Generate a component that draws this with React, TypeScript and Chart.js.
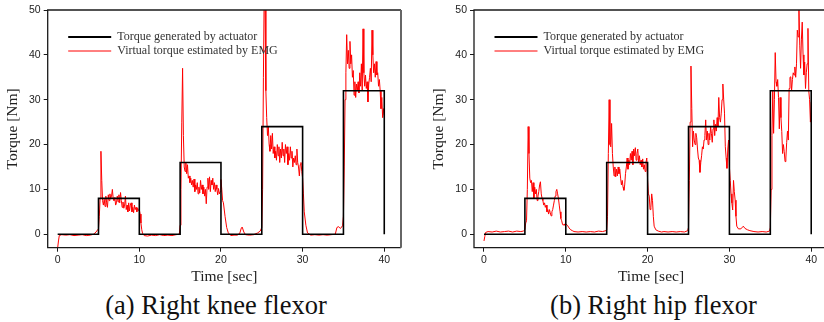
import React, { useEffect, useRef } from "react";
import { Chart, registerables } from "chart.js";

Chart.register(...registerables);

// ---------- data ----------
const xTicks = [0, 10, 20, 30, 40];
const yTicks = [0, 10, 20, 30, 40, 50];
const legendLabels = ["Torque generated by actuator", "Virtual torque estimated by EMG"];
const captions = ["(a) Right knee flexor", "(b) Right hip flexor"];
const xTitle = "Time [sec]";
const yTitle = "Torque [Nm]";

const stepTime = [0, 5, 5, 10, 10, 15, 15, 20, 20, 25, 25, 30, 30, 35, 35, 40, 40];
const stepTorque = [0, 0, 8, 8, 0, 0, 16, 16, 0, 0, 24, 24, 0, 0, 32, 32, 0];

const kneeEmg: [number, number][] = [
  [0, -3], [0.1, -1.5], [0.2, -0.3], [0.5, -0.1], [1, -0.2], [1.5, -0.1], [2, -0.3], [2.5, -0.2],
  [3, -0.1], [3.5, -0.3], [4, -0.2], [4.4, 0], [4.7, 0.5], [4.9, 1], [5, 1.2], [5.1, 4], [5.2, 8],
  [5.3, 18.5], [5.4, 12], [5.5, 7.5], [5.6, 6.5], [5.7, 7.8], [5.8, 6.2], [5.9, 8.5], [6, 7],
  [6.1, 6], [6.2, 8.8], [6.3, 7.5], [6.4, 9], [6.5, 8], [6.6, 8.5], [6.7, 10], [6.8, 8], [6.9, 7.5],
  [7, 8.2], [7.1, 6.5], [7.2, 7], [7.3, 8.5], [7.4, 7.2], [7.5, 8.8], [7.6, 7], [7.7, 9.3], [7.8, 7.5],
  [7.9, 6], [8, 7.2], [8.1, 5.8], [8.2, 6.5], [8.3, 8.5], [8.4, 5.5], [8.5, 6.5], [8.6, 5], [8.7, 7],
  [8.8, 5.2], [8.9, 6.5], [9, 7], [9.1, 5], [9.2, 6], [9.3, 4.8], [9.4, 6.5], [9.5, 5.5], [9.6, 6],
  [9.7, 5], [9.8, 5.8], [9.9, 5.3], [10, 5.5], [10.1, 4.5], [10.2, 2.5], [10.3, 1], [10.4, 0.2],
  [10.6, -0.3], [11, -0.4], [11.5, -0.2], [12, -0.3], [12.5, -0.1], [13, -0.3], [13.5, -0.2],
  [14, -0.3], [14.5, -0.1], [14.9, 0], [15, 2], [15.1, 10], [15.2, 25], [15.3, 37], [15.4, 22],
  [15.5, 15], [15.6, 14], [15.7, 16], [15.8, 13.5], [15.9, 15.5], [16, 12.5], [16.1, 13], [16.2, 11.5],
  [16.3, 12.5], [16.4, 11], [16.5, 12], [16.6, 10.5], [16.7, 12.3], [16.8, 9.5], [16.9, 11], [17, 10],
  [17.1, 11.5], [17.2, 9], [17.3, 10.5], [17.4, 9.2], [17.5, 12], [17.6, 10], [17.7, 11], [17.8, 9],
  [17.9, 10.5], [18, 8.5], [18.1, 10], [18.2, 6.8], [18.3, 10.5], [18.4, 12.5], [18.5, 10], [18.6, 12.8],
  [18.7, 9.5], [18.8, 12], [18.9, 11], [19, 12.5], [19.1, 10], [19.2, 11.5], [19.3, 9.5], [19.4, 11],
  [19.5, 10], [19.6, 8.8], [19.7, 10.2], [19.8, 9], [19.9, 9.5], [20, 12.2], [20.1, 10], [20.2, 7.5],
  [20.3, 7], [20.5, 4], [20.7, 1.5], [20.9, 0.3], [21.2, -0.3], [21.6, -0.2], [22, -0.2], [22.3, 0.2],
  [22.5, 1.4], [22.6, 1.6], [22.8, 0.5], [23, -0.1], [23.5, -0.2], [24, -0.1], [24.5, 0.3], [24.8, 0.7],
  [25, 1.5], [25.1, 10], [25.2, 35], [25.3, 55], [25.4, 50], [25.5, 32], [25.6, 26], [25.7, 22],
  [25.8, 24], [25.9, 20], [26, 18.5], [26.1, 22], [26.2, 19], [26.3, 22.5], [26.4, 18], [26.5, 19.5],
  [26.6, 17], [26.7, 18.5], [26.8, 16.5], [26.9, 20], [27, 17.5], [27.1, 19.5], [27.2, 16], [27.3, 19],
  [27.4, 17], [27.5, 20.5], [27.6, 17.5], [27.7, 19], [27.8, 16], [27.9, 20], [28, 18], [28.1, 19.5],
  [28.2, 15.5], [28.3, 18], [28.4, 16.5], [28.5, 19.5], [28.6, 17], [28.7, 18.5], [28.8, 15], [28.9, 17],
  [29, 16], [29.1, 17.5], [29.2, 15.5], [29.3, 19], [29.4, 16], [29.5, 15], [29.6, 13], [29.7, 15.5],
  [29.8, 16], [29.9, 14], [30, 12.5], [30.1, 9], [30.2, 5], [30.4, 2], [30.6, 0.3], [31, -0.2],
  [31.5, -0.1], [32, -0.2], [32.5, -0.1], [33, -0.2], [33.5, -0.1], [34, 0], [34.2, 1.5], [34.4, 1.7],
  [34.6, 1.3], [34.8, 1.6], [34.9, 2], [35, 4], [35.1, 15], [35.2, 30], [35.3, 36], [35.4, 44.5],
  [35.5, 38], [35.6, 41], [35.7, 37], [35.8, 43], [35.9, 38], [36, 40], [36.1, 35], [36.2, 36.5],
  [36.3, 31], [36.4, 34], [36.5, 30.5], [36.6, 33.5], [36.7, 32], [36.8, 34], [36.9, 31.5], [37, 36],
  [37.1, 33], [37.2, 38], [37.3, 32], [37.4, 45.8], [37.5, 36], [37.6, 33], [37.7, 35.5], [37.8, 32.5],
  [37.9, 34], [38, 29.5], [38.1, 33.5], [38.2, 35], [38.3, 37], [38.4, 34], [38.5, 45.5], [38.6, 40],
  [38.7, 36], [38.8, 38], [38.9, 35], [39, 38.5], [39.1, 35.5], [39.2, 36], [39.3, 33], [39.4, 34.5],
  [39.5, 32], [39.6, 28], [39.7, 30.5], [39.8, 26], [39.9, 28], [40, 26.5],
];

const hipEmg: [number, number][] = [
  [0, -1.5], [0.1, -0.5], [0.2, 0.4], [0.5, 0.6], [1, 0.5], [1.5, 0.7], [2, 0.5], [2.5, 0.6], [3, 0.7],
  [3.5, 0.5], [4, 0.7], [4.5, 0.6], [4.8, 0.7], [5, 1], [5.1, 2.5], [5.2, 3], [5.3, 10], [5.4, 24],
  [5.5, 18], [5.6, 12.5], [5.7, 11.5], [5.8, 12], [5.9, 9.5], [6, 11.5], [6.1, 8], [6.2, 10.5], [6.3, 9],
  [6.4, 10], [6.5, 7.5], [6.6, 8.5], [6.7, 9.5], [6.8, 11], [6.9, 11.7], [7, 9], [7.1, 8], [7.2, 7.5],
  [7.3, 6.5], [7.4, 7], [7.5, 6], [7.6, 6.5], [7.7, 5], [7.8, 5.5], [7.9, 4.5], [8, 5.5], [8.1, 4.8],
  [8.2, 4.1], [8.3, 5], [8.4, 5.5], [8.5, 6.5], [8.6, 7.5], [8.7, 8.5], [8.8, 9.5], [8.9, 10], [9, 9],
  [9.1, 8], [9.2, 6.5], [9.3, 5], [9.4, 3.5], [9.5, 3], [9.6, 2.2], [9.7, 2], [9.8, 2.3], [9.9, 2],
  [10, 2.3], [10.2, 2], [10.4, 1.4], [10.6, 1], [10.8, 0.8], [11, 0.6], [11.5, 0.5], [12, 0.6],
  [12.5, 0.5], [13, 0.6], [13.5, 0.5], [14, 0.7], [14.5, 0.6], [14.9, 0.8], [15, 1], [15.1, 4],
  [15.2, 18], [15.3, 30], [15.4, 20], [15.5, 19.5], [15.6, 24.7], [15.7, 18], [15.8, 15], [15.9, 13],
  [16, 15], [16.1, 12.8], [16.2, 14.5], [16.3, 13], [16.4, 15], [16.5, 13.5], [16.6, 14.5], [16.7, 12.5],
  [16.8, 11], [16.9, 12], [17, 10.5], [17.1, 9.8], [17.2, 11], [17.3, 13.5], [17.4, 15], [17.5, 17],
  [17.6, 14.5], [17.7, 16.5], [17.8, 15.5], [17.9, 18], [18, 16.5], [18.1, 18.5], [18.2, 15.5], [18.3, 19],
  [18.4, 17.5], [18.5, 19.3], [18.6, 16.5], [18.7, 18], [18.8, 19], [18.9, 16], [19, 17.5], [19.1, 15.5],
  [19.2, 16.5], [19.3, 15], [19.4, 16.8], [19.5, 14.5], [19.6, 15.5], [19.7, 14], [19.8, 16], [19.9, 17],
  [20, 12], [20.1, 9], [20.2, 8.5], [20.3, 5.5], [20.4, 6], [20.5, 9], [20.6, 7.5], [20.7, 4], [20.8, 1.8],
  [21, 1], [21.3, 0.7], [21.7, 0.5], [22, 0.6], [22.5, 0.5], [23, 0.6], [23.5, 0.5], [24, 0.6],
  [24.5, 0.5], [24.9, 0.8], [25, 1.5], [25.1, 12], [25.2, 25], [25.3, 37.5], [25.4, 28], [25.5, 19.5],
  [25.6, 23], [25.7, 21], [25.8, 20], [25.9, 22.5], [26, 21.5], [26.1, 19], [26.2, 17], [26.3, 16.5],
  [26.4, 13.8], [26.5, 16], [26.6, 17.5], [26.7, 19.5], [26.8, 19], [26.9, 21], [27, 22], [27.1, 25.5],
  [27.2, 21], [27.3, 23], [27.4, 20], [27.5, 22.5], [27.6, 21], [27.7, 24], [27.8, 22.5], [27.9, 20.5],
  [28, 23.5], [28.1, 25.5], [28.2, 22], [28.3, 24.5], [28.4, 23], [28.5, 26], [28.6, 24], [28.7, 30.5],
  [28.8, 26], [28.9, 25], [29, 27], [29.1, 30], [29.2, 33.5], [29.3, 30], [29.4, 27], [29.5, 19.5],
  [29.6, 17], [29.7, 14.7], [29.8, 19], [29.9, 21], [30, 15], [30.1, 12], [30.2, 9], [30.3, 7],
  [30.4, 5.4], [30.5, 12], [30.6, 9.5], [30.7, 7.6], [30.8, 4], [30.9, 1.8], [31.1, 1.2], [31.4, 1.2],
  [31.7, 1.8], [31.9, 1.3], [32.2, 1], [32.5, 0.8], [33, 0.6], [33.5, 0.5], [34, 0.6], [34.5, 0.5],
  [34.9, 0.7], [35, 1.5], [35.1, 10], [35.2, 22], [35.3, 32], [35.4, 22.5], [35.5, 30], [35.6, 40.5],
  [35.7, 34], [35.8, 33], [35.9, 34.5], [36, 30.5], [36.1, 23.5], [36.2, 30.5], [36.3, 26], [36.4, 22.9],
  [36.5, 18], [36.6, 20], [36.7, 18.4], [36.8, 16.2], [36.9, 17], [37, 20.5], [37.1, 23], [37.2, 21],
  [37.3, 32.5], [37.4, 35], [37.5, 35.1], [37.6, 32], [37.7, 34.5], [37.8, 36], [37.9, 35.5], [38, 37.3],
  [38.1, 35], [38.2, 38], [38.3, 45.5], [38.4, 44], [38.5, 50], [38.6, 42], [38.7, 37], [38.8, 43.5],
  [38.9, 47.3], [39, 40], [39.1, 35.5], [39.2, 38.4], [39.3, 32.5], [39.4, 36], [39.5, 38], [39.6, 45.9],
  [39.7, 32], [39.8, 30], [39.9, 25], [40, 29.5],
];

// ---------- plugins ----------
const framePlugin = {
  id: "frame",
  afterDatasetsDraw(chart: any) {
    const { ctx, chartArea: a } = chart;
    ctx.save();
    ctx.strokeStyle = "#1a1a1a";
    ctx.lineWidth = 1.3;
    ctx.beginPath();
    ctx.moveTo(a.right, a.top);
    ctx.lineTo(a.left, a.top);
    ctx.lineTo(a.left, a.bottom);
    ctx.lineTo(a.right, a.bottom);
    ctx.stroke();
    ctx.strokeStyle = "#666";
    ctx.lineWidth = 2;
    ctx.beginPath();
    ctx.moveTo(a.right, a.top);
    ctx.lineTo(a.right, a.bottom);
    ctx.stroke();
    ctx.restore();
  },
};

const legendPlugin = {
  id: "insideLegend",
  afterDraw(chart: any) {
    const { ctx, chartArea: a } = chart;
    chart.data.datasets.forEach((ds: any, i: number) => {
      const y = a.top + 27 + i * 14;
      ctx.save();
      ctx.strokeStyle = ds.borderColor;
      ctx.lineWidth = i === 0 ? 2 : 1;
      ctx.beginPath();
      ctx.moveTo(a.left + 20.5, y);
      ctx.lineTo(a.left + 63.5, y);
      ctx.stroke();
      ctx.fillStyle = "#333";
      ctx.font = '12px "Liberation Serif"';
      ctx.textBaseline = "middle";
      ctx.textAlign = "left";
      ctx.fillText(ds.label, a.left + 69.5, y);
      ctx.restore();
    });
  },
};

// ---------- panel ----------
type PanelProps = {
  emg: [number, number][];
  left: number;
  width: number;
  areaLeft: number;
  padRight: number;
  yTitlePad: number;
};

const CH = 290;

function Panel({ emg, left, width, areaLeft, padRight, yTitlePad }: PanelProps) {
  const ref = useRef<HTMLCanvasElement | null>(null);
  useEffect(() => {
    if (!ref.current) return;
    const chart = new Chart(ref.current, {
      type: "line",
      data: {
        datasets: [
          {
            label: legendLabels[0],
            data: stepTime.map((t, i) => ({ x: t, y: stepTorque[i] })),
            borderColor: "#000",
            borderWidth: 1.6,
            pointRadius: 0,
            tension: 0,
          },
          {
            label: legendLabels[1],
            data: emg.map(([t, v]) => ({ x: t, y: v })),
            borderColor: "#ff0000",
            borderWidth: 1,
            pointRadius: 0,
            tension: 0,
          },
        ],
      },
      options: {
        animation: false,
        responsive: false,
        maintainAspectRatio: false,
        devicePixelRatio: 1,
        layout: { padding: { left: 0, right: padRight, top: 10, bottom: 0 } },
        plugins: { legend: { display: false }, tooltip: { enabled: false } },
        scales: {
          x: {
            type: "linear",
            min: -1.22,
            max: 42.05,
            afterBuildTicks: (s: any) => {
              s.ticks = xTicks.map((v) => ({ value: v }));
            },
            afterFit: (s: any) => {
              s.height = CH - 247.7;
            },
            grid: { drawOnChartArea: false, drawTicks: true, tickLength: 4, tickColor: "#1a1a1a", lineWidth: 1 },
            border: { display: false },
            ticks: {
              font: { family: "Liberation Sans", size: 10.5 },
              color: "#222",
              padding: 2,
              maxRotation: 0,
              autoSkip: false,
            },
            title: {
              display: true,
              text: xTitle,
              color: "#222",
              font: { family: "Liberation Serif", size: 15.5 },
              padding: { top: 0, bottom: 3.7 },
            },
          },
          y: {
            type: "linear",
            min: -3,
            max: 50,
            afterBuildTicks: (s: any) => {
              s.ticks = yTicks.map((v) => ({ value: v }));
            },
            afterFit: (s: any) => {
              s.width = areaLeft;
            },
            grid: { drawOnChartArea: false, drawTicks: true, tickLength: 4, tickColor: "#1a1a1a", lineWidth: 1 },
            border: { display: false },
            ticks: {
              font: { family: "Liberation Sans", size: 10.5 },
              color: "#222",
              padding: 3,
              autoSkip: false,
            },
            title: {
              display: true,
              text: yTitle,
              color: "#222",
              font: { family: "Liberation Serif", size: 15.5 },
              padding: { top: yTitlePad, bottom: 0 },
            },
          },
        },
      },
      plugins: [framePlugin, legendPlugin],
    } as any);
    return () => chart.destroy();
  }, [emg, areaLeft, padRight, yTitlePad]);

  return (
    <canvas
      ref={ref}
      width={width}
      height={CH}
      style={{ position: "absolute", left, top: 0, width, height: CH }}
    />
  );
}

function Caption({ text, cx }: { text: string; cx: number }) {
  return (
    <div
      style={{
        position: "absolute",
        left: cx,
        top: 289.5,
        transform: "translateX(-50%)",
        fontFamily: '"Liberation Serif", serif',
        fontSize: 26.5,
        lineHeight: "30px",
        whiteSpace: "nowrap",
        color: "#111",
      }}
    >
      {text}
    </div>
  );
}

export default function App() {
  return (
    <div
      style={{
        position: "absolute",
        left: 0,
        top: 0,
        width: 824,
        height: 322,
        overflow: "hidden",
        background: "#fff",
      }}
    >
      <Panel emg={kneeEmg} left={0} width={412} areaLeft={47.7} padRight={11} yTitlePad={3.7} />
      <Panel emg={hipEmg} left={412} width={420} areaLeft={62} padRight={4} yTitlePad={17.7} />
      <Caption text={captions[0]} cx={216} />
      <Caption text={captions[1]} cx={653.5} />
    </div>
  );
}
